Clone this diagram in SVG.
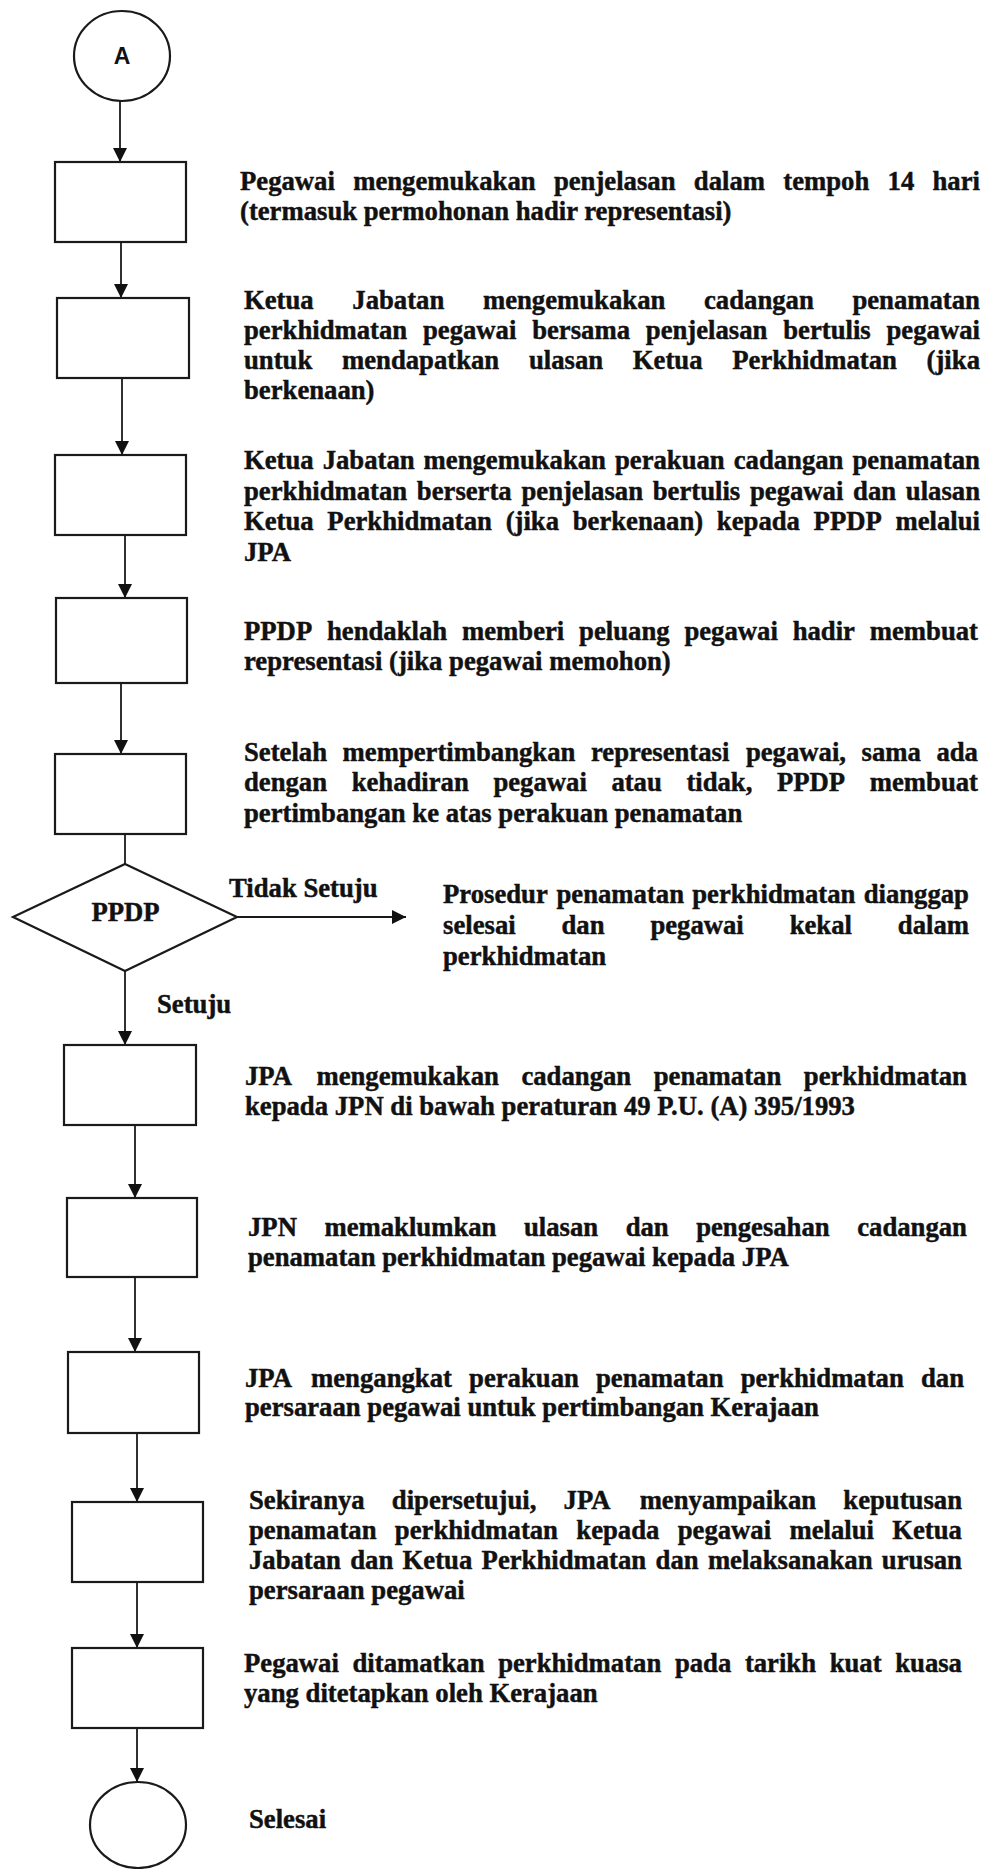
<svg xmlns="http://www.w3.org/2000/svg" width="982" height="1869" viewBox="0 0 982 1869">
<defs>
<style>
.bx{fill:#fff;stroke:#1a1a1a;stroke-width:2.2}
.ln{fill:none;stroke:#1a1a1a;stroke-width:1.8}
.ar{fill:none;stroke:#1a1a1a;stroke-width:1.8;marker-end:url(#ah)}
.t{font-family:"Liberation Serif","Times New Roman",serif;font-weight:bold;font-size:26.7px;fill:#111;stroke:#111;stroke-width:0.45}
.s{font-family:"Liberation Sans",Arial,sans-serif;font-weight:bold;font-size:23px;fill:#111}
</style>
<marker id="ah" viewBox="0 0 14 14" refX="14" refY="7" markerWidth="14" markerHeight="14" markerUnits="userSpaceOnUse" orient="auto"><path d="M0,0 L14,7 L0,14 z" fill="#111"/></marker>
</defs>
<rect x="0" y="0" width="982" height="1869" fill="#fff"/>

<g id="connectors">
<line class="ar" x1="120" y1="101" x2="120" y2="162"/>
<line class="ar" x1="121" y1="242" x2="121" y2="298"/>
<line class="ar" x1="122" y1="378" x2="122" y2="455"/>
<line class="ar" x1="125" y1="535" x2="125" y2="598"/>
<line class="ar" x1="121" y1="683" x2="121" y2="754"/>
<line class="ln" x1="125" y1="834" x2="125" y2="864"/>
<line class="ar" x1="125" y1="971" x2="125" y2="1045"/>
<line class="ar" x1="237" y1="917" x2="406" y2="917"/>
<line class="ar" x1="135" y1="1125" x2="135" y2="1198"/>
<line class="ar" x1="135" y1="1277" x2="135" y2="1352"/>
<line class="ar" x1="137" y1="1433" x2="137" y2="1502"/>
<line class="ar" x1="137" y1="1582" x2="137" y2="1648"/>
<line class="ar" x1="137" y1="1728" x2="137" y2="1782"/>
<text class="t" x="229" y="897">Tidak Setuju</text>
<text class="t" x="157" y="1013">Setuju</text>
</g>

<g id="start">
<ellipse class="bx" cx="122" cy="56" rx="48" ry="45"/>
<text class="s" x="122" y="64" text-anchor="middle">A</text>
</g>

<g id="n1">
<rect class="bx" x="55" y="162" width="131" height="80"/>
<text class="t" y="190"><tspan x="240">Pegawai</tspan><tspan x="353.18">mengemukakan</tspan><tspan x="553.91">penjelasan</tspan><tspan x="693.82">dalam</tspan><tspan x="783.29">tempoh</tspan><tspan x="887.58">14</tspan><tspan x="932.54">hari</tspan></text>
<text class="t" x="240" y="220">(termasuk permohonan hadir representasi)</text>
</g>

<g id="n2">
<rect class="bx" x="57" y="298" width="132" height="80"/>
<text class="t" y="309"><tspan x="244">Ketua</tspan><tspan x="352.33">Jabatan</tspan><tspan x="482.93">mengemukakan</tspan><tspan x="704.02">cadangan</tspan><tspan x="852.43">penamatan</tspan></text>
<text class="t" y="339"><tspan x="244">perkhidmatan</tspan><tspan x="422.96">pegawai</tspan><tspan x="532.18">bersama</tspan><tspan x="645.83">penjelasan</tspan><tspan x="783.25">bertulis</tspan><tspan x="886.54">pegawai</tspan></text>
<text class="t" y="369"><tspan x="244">untuk</tspan><tspan x="341.97">mendapatkan</tspan><tspan x="528.93">ulasan</tspan><tspan x="632.83">Ketua</tspan><tspan x="732.24">Perkhidmatan</tspan><tspan x="926.6">(jika</tspan></text>
<text class="t" x="244" y="399">berkenaan)</text>
</g>

<g id="n3">
<rect class="bx" x="55" y="455" width="131" height="80"/>
<text class="t" y="469"><tspan x="244">Ketua</tspan><tspan x="322.65">Jabatan</tspan><tspan x="423.57">mengemukakan</tspan><tspan x="614.98">perakuan</tspan><tspan x="733.71">cadangan</tspan><tspan x="852.44">penamatan</tspan></text>
<text class="t" y="500"><tspan x="244">perkhidmatan</tspan><tspan x="416.87">berserta</tspan><tspan x="521.44">penjelasan</tspan><tspan x="652.77">bertulis</tspan><tspan x="749.97">pegawai</tspan><tspan x="853.1">dan</tspan><tspan x="905.82">ulasan</tspan></text>
<text class="t" y="530"><tspan x="244">Ketua</tspan><tspan x="327.35">Perkhidmatan</tspan><tspan x="505.65">(jika</tspan><tspan x="572.69">berkenaan)</tspan><tspan x="716.87">kepada</tspan><tspan x="813.6">PPDP</tspan><tspan x="895.46">melalui</tspan></text>
<text class="t" x="244" y="561">JPA</text>
</g>

<g id="n4">
<rect class="bx" x="56" y="598" width="131" height="85"/>
<text class="t" y="640"><tspan x="244">PPDP</tspan><tspan x="327.01">hendaklah</tspan><tspan x="462">memberi</tspan><tspan x="579.1">peluang</tspan><tspan x="684.4">pegawai</tspan><tspan x="792.64">hadir</tspan><tspan x="869.75">membuat</tspan></text>
<text class="t" x="244" y="670">representasi (jika pegawai memohon)</text>
</g>

<g id="n5">
<rect class="bx" x="55" y="754" width="131" height="80"/>
<text class="t" y="761"><tspan x="244">Setelah</tspan><tspan x="342.59">mempertimbangkan</tspan><tspan x="591">representasi</tspan><tspan x="745.93">pegawai,</tspan><tspan x="861.59">sama</tspan><tspan x="936.45">ada</tspan></text>
<text class="t" y="791"><tspan x="244">dengan</tspan><tspan x="351.64">kehadiran</tspan><tspan x="493.4">pegawai</tspan><tspan x="611.4">atau</tspan><tspan x="686.39">tidak,</tspan><tspan x="776.97">PPDP</tspan><tspan x="869.74">membuat</tspan></text>
<text class="t" x="244" y="822">pertimbangan ke atas perakuan penamatan</text>
</g>

<g id="d1">
<polygon class="bx" points="125,864 237,917 125,971 13,917"/>
<text class="t" x="125.5" y="921" text-anchor="middle">PPDP</text>
</g>

<g id="r1">
<text class="t" y="903"><tspan x="443">Prosedur</tspan><tspan x="556.49">penamatan</tspan><tspan x="692.25">perkhidmatan</tspan><tspan x="863.63">dianggap</tspan></text>
<text class="t" y="934"><tspan x="443">selesai</tspan><tspan x="561.51">dan</tspan><tspan x="650.38">pegawai</tspan><tspan x="789.66">kekal</tspan><tspan x="897.81">dalam</tspan></text>
<text class="t" x="443" y="965">perkhidmatan</text>
</g>

<g id="n6">
<rect class="bx" x="64" y="1045" width="132" height="80"/>
<text class="t" y="1085"><tspan x="245">JPA</tspan><tspan x="316.45">mengemukakan</tspan><tspan x="521.43">cadangan</tspan><tspan x="653.73">penamatan</tspan><tspan x="803.81">perkhidmatan</tspan></text>
<text class="t" x="245" y="1115">kepada JPN di bawah peraturan 49 P.U. (A) 395/1993</text>
</g>

<g id="n7">
<rect class="bx" x="67" y="1198" width="130" height="79"/>
<text class="t" y="1236"><tspan x="248">JPN</tspan><tspan x="324.42">memaklumkan</tspan><tspan x="523.98">ulasan</tspan><tspan x="625.66">dan</tspan><tspan x="696.18">pengesahan</tspan><tspan x="857.19">cadangan</tspan></text>
<text class="t" x="248" y="1266">penamatan perkhidmatan pegawai kepada JPA</text>
</g>

<g id="n8">
<rect class="bx" x="68" y="1352" width="131" height="81"/>
<text class="t" y="1387"><tspan x="245">JPA</tspan><tspan x="311.05">mengangkat</tspan><tspan x="469.08">perakuan</tspan><tspan x="595.98">penamatan</tspan><tspan x="740.66">perkhidmatan</tspan><tspan x="920.96">dan</tspan></text>
<text class="t" x="245" y="1416">persaraan pegawai untuk pertimbangan Kerajaan</text>
</g>

<g id="n9">
<rect class="bx" x="72" y="1502" width="131" height="80"/>
<text class="t" y="1509"><tspan x="249">Sekiranya</tspan><tspan x="391.84">dipersetujui,</tspan><tspan x="563.59">JPA</tspan><tspan x="639.65">menyampaikan</tspan><tspan x="843.31">keputusan</tspan></text>
<text class="t" y="1539"><tspan x="249">penamatan</tspan><tspan x="394.85">perkhidmatan</tspan><tspan x="576.32">kepada</tspan><tspan x="677.69">pegawai</tspan><tspan x="789.42">melalui</tspan><tspan x="892.26">Ketua</tspan></text>
<text class="t" y="1569"><tspan x="249">Jabatan</tspan><tspan x="350.27">dan</tspan><tspan x="402.6">Ketua</tspan><tspan x="481.6">Perkhidmatan</tspan><tspan x="655.55">dan</tspan><tspan x="707.88">melaksanakan</tspan><tspan x="881.86">urusan</tspan></text>
<text class="t" x="249" y="1599">persaraan pegawai</text>
</g>

<g id="n10">
<rect class="bx" x="72" y="1648" width="131" height="80"/>
<text class="t" y="1672"><tspan x="244">Pegawai</tspan><tspan x="352.51">ditamatkan</tspan><tspan x="498.13">perkhidmatan</tspan><tspan x="674.91">pada</tspan><tspan x="744.89">tarikh</tspan><tspan x="829.69">kuat</tspan><tspan x="895.21">kuasa</tspan></text>
<text class="t" x="244" y="1702">yang ditetapkan oleh Kerajaan</text>
</g>

<g id="end">
<ellipse class="bx" cx="138" cy="1825" rx="48" ry="43"/>
<text class="t" x="249" y="1828">Selesai</text>
</g>
</svg>
